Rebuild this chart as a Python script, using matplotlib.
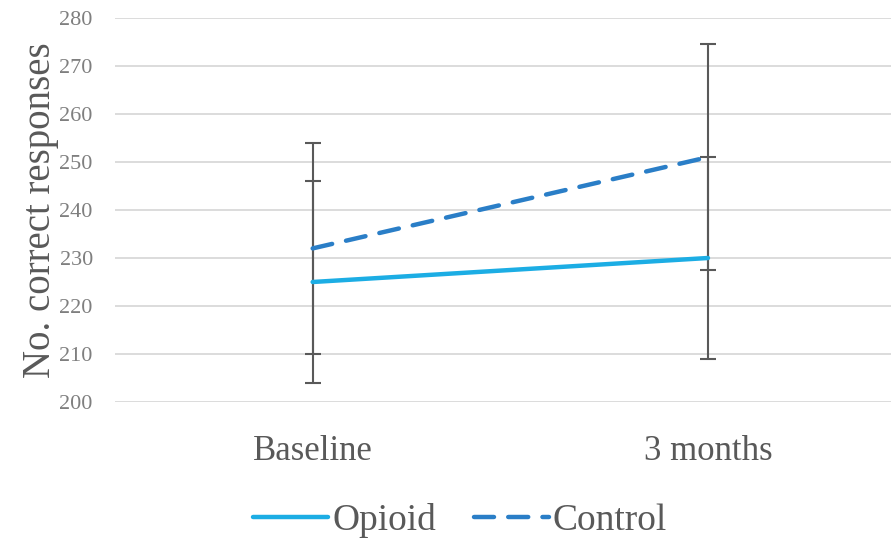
import matplotlib.pyplot as plt
import numpy as np

# data
categories = ['Baseline', '3 months']
opioid = [225, 230]
opioid_err = [21, 21]
control = [232, 251]
control_err = [22, 23.5]

plt.rcParams['font.family'] = ['Liberation Serif', 'DejaVu Serif']

fig = plt.figure(figsize=(8.91, 5.40), dpi=100)
ax = fig.add_axes([115 / 891, 1 - 402 / 540, 1 - 115 / 891, (402 - 18) / 540])

x = np.arange(len(categories)) + 0.5
grey = '#595959'

# error bars first, lines on top
ax.errorbar(x, opioid, yerr=opioid_err, fmt='none', ecolor=grey, elinewidth=1.5,
            capsize=6, capthick=1.5, zorder=2)
ax.errorbar(x, control, yerr=control_err, fmt='none', ecolor=grey, elinewidth=1.5,
            capsize=6, capthick=1.5, zorder=2)

ax.plot(x, opioid, color='#1CADE4', lw=3.2, solid_capstyle='round', label='Opioid', zorder=3)
ax.plot(x, control, color='#2A7EC7', lw=3.2, ls=(0, (4.5, 3.2)), dash_capstyle='round',
        label='Control', zorder=3)

ax.set_ylim(200, 280)
ax.set_yticks(np.arange(200, 281, 10))
ax.set_xlim(0, 1.963)
ax.set_xticks(x)
ax.set_xticklabels(categories, fontsize=25, color=grey)
ax.tick_params(axis='y', labelsize=16, labelcolor='#7f7f7f', length=0, pad=16)
ax.tick_params(axis='x', length=0, pad=24)
ax.yaxis.grid(True, color='#D9D9D9', lw=1.3)
ax.set_axisbelow(True)
for s in ax.spines.values():
    s.set_visible(False)

ax.set_ylabel('No. correct responses', fontsize=28, color=grey, labelpad=0)

leg = fig.legend(loc='center', bbox_to_anchor=(460 / 891, 1 - 521 / 540),
                 ncol=2, frameon=False, fontsize=27, handlelength=2.0, handletextpad=0.1,
                 columnspacing=1.0)
for t in leg.get_texts():
    t.set_color(grey)

fig.savefig('out.png', dpi=100)
